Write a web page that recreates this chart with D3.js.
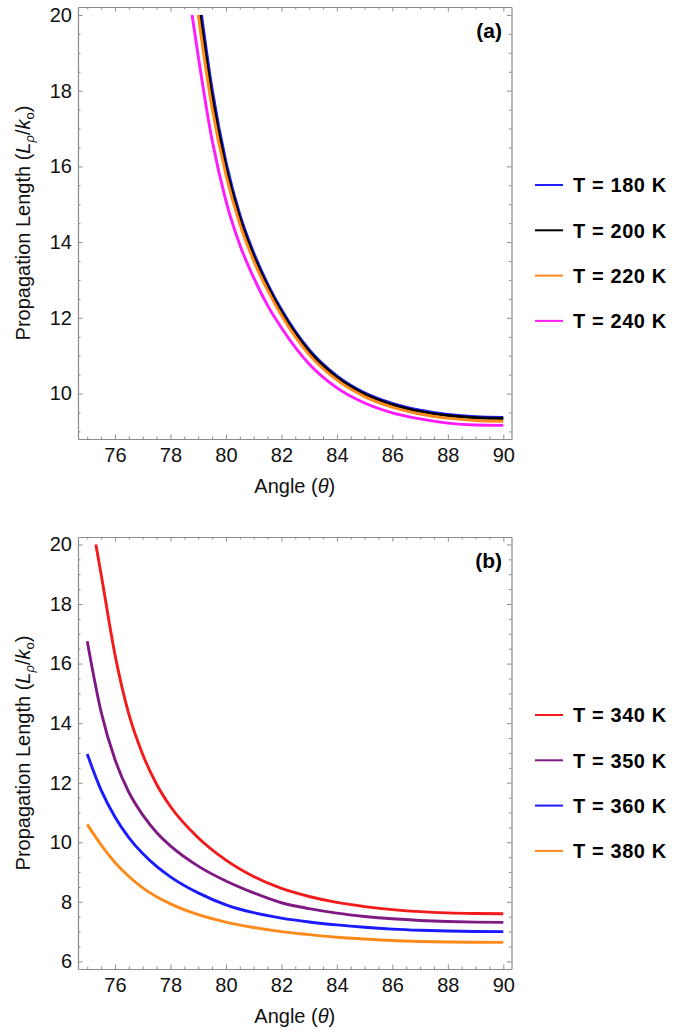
<!DOCTYPE html>
<html>
<head>
<meta charset="utf-8">
<script src="https://cdn.jsdelivr.net/npm/d3@7"></script>
<style>
  body { margin: 0; background: #fff; }
  text { font-family: "Liberation Sans", Arial, sans-serif; }
  .tick-label { font-size: 20px; fill: #111; }
  .axis-title { font-size: 20px; fill: #111; }
  .legend-text { font-size: 20px; font-weight: bold; fill: #000; letter-spacing: 0.6px; }
  .panel-tag { font-size: 21px; font-weight: bold; fill: #000; }
</style>
</head>
<body>
<div id="chart"></div>
<script>
// panel (a): T = 180..240 K, each curve enters the plot at L = 20
const startA = [79.12, 79.07, 79.0, 78.78]
const anglesA = [79.5, 80, 80.5, 81, 81.5, 82, 83, 84, 85, 86, 87, 88, 89, 90]
const t180 = [18.05, 16.12, 14.73, 13.72, 12.9, 12.22, 11.16, 10.47, 10.02, 9.74, 9.56, 9.45, 9.39, 9.37]
const t200 = [17.85, 15.98, 14.63, 13.63, 12.83, 12.16, 11.11, 10.43, 9.99, 9.71, 9.53, 9.42, 9.36, 9.34]
const t220 = [17.55, 15.78, 14.48, 13.51, 12.73, 12.07, 11.03, 10.36, 9.92, 9.64, 9.46, 9.35, 9.29, 9.27]
const t240 = [16.7, 15.09, 13.93, 13.06, 12.33, 11.74, 10.78, 10.15, 9.75, 9.49, 9.33, 9.22, 9.17, 9.16]

// panel (b): T = 340..380 K
const anglesB = [75, 75.5, 76, 76.5, 77, 77.5, 78, 79, 80, 81, 82, 83, 84, 85, 86, 87, 88, 89, 90]
const t340Start = 75.31
const t340 = [null, 19.0, 16.3, 14.3, 12.95, 11.95, 11.2, 10.15, 9.4, 8.85, 8.45, 8.18, 7.98, 7.84, 7.74, 7.67, 7.63, 7.61, 7.6]
const t350 = [16.75, 14.38, 12.78, 11.68, 10.92, 10.33, 9.88, 9.2, 8.7, 8.3, 7.97, 7.77, 7.62, 7.51, 7.43, 7.375, 7.34, 7.32, 7.31]
const t360 = [12.96, 11.75, 10.85, 10.16, 9.62, 9.19, 8.84, 8.3, 7.9, 7.635, 7.455, 7.325, 7.225, 7.145, 7.085, 7.045, 7.02, 7.005, 7.0]
const t380 = [10.6, 9.91, 9.32, 8.85, 8.47, 8.17, 7.93, 7.57, 7.32, 7.14, 7.0, 6.9, 6.81, 6.75, 6.7, 6.67, 6.653, 6.643, 6.64]

const xTicks = [76, 78, 80, 82, 84, 86, 88, 90]
const yTicksA = [10, 12, 14, 16, 18, 20]
const yTicksB = [6, 8, 10, 12, 14, 16, 18, 20]

const width = 688, height = 1036

const svg = d3.select('#chart').append('svg')
    .attr('width', width)
    .attr('height', height)

function seriesA(start, vals) {
    return [[start, 20]].concat(anglesA.map((a, i) => [a, vals[i]]))
}

function seriesB(vals, start) {
    const pts = anglesB.map((a, i) => [a, vals[i]]).filter(d => d[1] != null)
    return start ? [[start, 20]].concat(pts) : pts
}

const panels = [
    {
        id: 'a', top: 7, bottom: 439, yDomain: [8.80, 20.21], yTicks: yTicksA,
        legendTop: 185, tag: '(a)',
        series: [
            {name: 'T = 180 K', color: '#1f1fff', data: seriesA(startA[0], t180)},
            {name: 'T = 200 K', color: '#000000', data: seriesA(startA[1], t200)},
            {name: 'T = 220 K', color: '#ff8a1c', data: seriesA(startA[2], t220)},
            {name: 'T = 240 K', color: '#ff1aff', data: seriesA(startA[3], t240)}
        ]
    },
    {
        id: 'b', top: 537, bottom: 969, yDomain: [5.745, 20.25], yTicks: yTicksB,
        legendTop: 715, tag: '(b)',
        series: [
            {name: 'T = 340 K', color: '#f21a1a', data: seriesB(t340, t340Start)},
            {name: 'T = 350 K', color: '#7f1a85', data: seriesB(t350)},
            {name: 'T = 360 K', color: '#1a1aff', data: seriesB(t360)},
            {name: 'T = 380 K', color: '#ff8a1c', data: seriesB(t380)}
        ]
    }
]

const left = 78, right = 511.5
const frameColor = '#8c8c8c'

panels.forEach(p => {
    const x = d3.scaleLinear().domain([74.667, 90.295]).range([left, right])
    const y = d3.scaleLinear().domain(p.yDomain).range([p.bottom, p.top])

    const g = svg.append('g').attr('class', 'panel-' + p.id)

    // minor ticks every 0.5
    const xMinor = d3.range(75, 90.01, 0.5).filter(v => v % 2 !== 0)
    const yMinor = d3.range(Math.ceil(p.yDomain[0] * 2) / 2, p.yDomain[1], 0.5).filter(v => v % 2 !== 0)

    // frame axes, ticks pointing inward
    const axes = [
        {axis: d3.axisBottom(x), tr: `translate(0,${p.bottom})`, pad: 9, labels: true, minor: xMinor, major: xTicks},
        {axis: d3.axisTop(x), tr: `translate(0,${p.top})`, pad: 0, labels: false, minor: xMinor, major: xTicks},
        {axis: d3.axisLeft(y), tr: `translate(${left},0)`, pad: 6, labels: true, minor: yMinor, major: p.yTicks},
        {axis: d3.axisRight(y), tr: `translate(${right},0)`, pad: 0, labels: false, minor: yMinor, major: p.yTicks}
    ]
    axes.forEach(a => {
        const minorG = g.append('g')
            .attr('transform', a.tr)
            .call(a.axis.tickValues(a.minor).tickSize(-2.5).tickFormat(''))
        minorG.select('.domain').remove()
        minorG.selectAll('line').attr('stroke', frameColor)

        const majorG = g.append('g')
            .attr('transform', a.tr)
            .call(a.axis.tickValues(a.major).tickSize(-4.5).tickSizeOuter(0)
                .tickPadding(a.pad)
                .tickFormat(a.labels ? d3.format('d') : ''))
        majorG.attr('font-size', null).attr('font-family', null)
        majorG.select('.domain').attr('stroke', frameColor).attr('stroke-width', 1.2)
        majorG.selectAll('line').attr('stroke', frameColor)
        majorG.selectAll('text').attr('class', 'tick-label')
    })

    g.append('clipPath').attr('id', 'clip-' + p.id)
        .append('rect')
        .attr('x', left).attr('y', p.top)
        .attr('width', right - left).attr('height', p.bottom - p.top)

    const line = d3.line()
        .x(d => x(d[0]))
        .y(d => y(d[1]))
        .curve(d3.curveMonotoneX)

    g.append('g').attr('clip-path', `url(#clip-${p.id})`)
        .selectAll('path')
        .data(p.series)
        .join('path')
        .attr('d', d => line(d.data))
        .attr('fill', 'none')
        .attr('stroke', d => d.color)
        .attr('stroke-width', 2.9)

    // axis titles
    const xt = g.append('text')
        .attr('class', 'axis-title')
        .attr('x', (left + right) / 2)
        .attr('y', p.bottom + 54)
        .attr('text-anchor', 'middle')
    xt.append('tspan').text('Angle (')
    xt.append('tspan').attr('font-style', 'italic').text('θ')
    xt.append('tspan').text(')')

    const yt = g.append('text')
        .attr('class', 'axis-title')
        .attr('transform', `translate(30,${(p.top + p.bottom) / 2}) rotate(-90)`)
        .attr('text-anchor', 'middle')
    yt.append('tspan').text('Propagation Length (')
    yt.append('tspan').attr('font-style', 'italic').text('L')
    yt.append('tspan').attr('font-style', 'italic').attr('font-size', 13).attr('dy', 4).text('ρ')
    yt.append('tspan').attr('dy', -4).text('/')
    yt.append('tspan').attr('font-style', 'italic').text('k')
    yt.append('tspan').attr('font-size', 13).attr('dy', 4).text('o')
    yt.append('tspan').attr('dy', -4).text(')')

    g.append('text')
        .attr('class', 'panel-tag')
        .attr('x', 502)
        .attr('y', p.top + 31)
        .attr('text-anchor', 'end')
        .text(p.tag)

    // legend
    const lg = g.append('g').selectAll('g')
        .data(p.series)
        .join('g')
        .attr('transform', (d, i) => `translate(535,${p.legendTop + i * 45.3})`)
    lg.append('line')
        .attr('x1', 0).attr('x2', 28)
        .attr('stroke', d => d.color)
        .attr('stroke-width', 2)
    lg.append('text')
        .attr('class', 'legend-text')
        .attr('x', 38)
        .attr('dy', '0.36em')
        .text(d => d.name)
})
</script>
</body>
</html>
